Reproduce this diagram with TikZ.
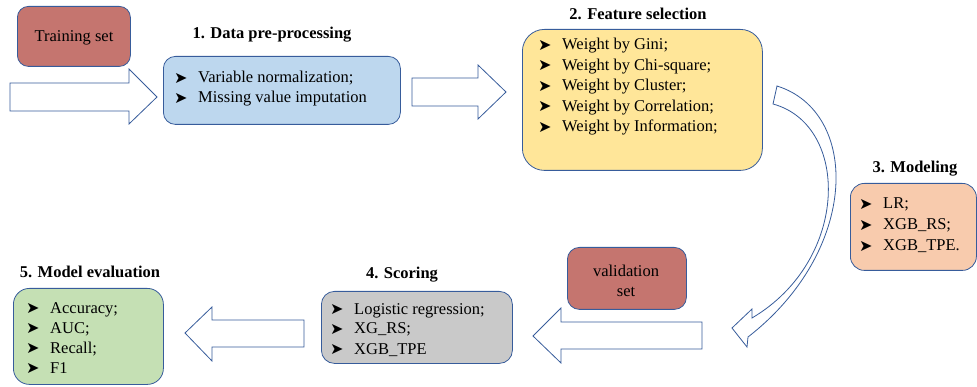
\documentclass[tikz,border=0pt]{standalone}
\usepackage{fontspec}
\setmainfont{Liberation Serif}
\newfontfamily\dejavu{DejaVu Sans}
\definecolor{redset}{RGB}{197,117,111}
\definecolor{bluebox}{RGB}{189,215,238}
\definecolor{yellowbox}{RGB}{255,230,153}
\definecolor{orangebox}{RGB}{248,203,173}
\definecolor{greenbox}{RGB}{197,224,180}
\definecolor{graybox}{RGB}{201,201,201}
\definecolor{edgeblue}{RGB}{55,92,155}
\newcommand\bul{\makebox[22pt][l]{\hspace{-2pt}\raisebox{-0.5pt}{\dejavu\fontsize{16}{16}\selectfont ➤}}}
\newcommand\itemlist[5]{%
  \foreach \t [count=\i from 0] in {#5} {
    \node[itemtxt, anchor=base west] (#1-\i) at (#2-22, #3+#4*\i) {\bul\t};
  }}
\begin{document}
\begin{tikzpicture}[x=1pt,y=-1pt,
  box/.style={draw=edgeblue, line width=0.8pt, inner sep=0pt, anchor=north west},
  itemtxt/.style={font=\fontsize{16.5}{20}\selectfont, inner sep=0pt},
  ttl/.style={font=\fontsize{16.5}{20}\selectfont\bfseries, inner sep=0pt},
  blockarrow/.style={draw=edgeblue, line width=0.8pt, fill=white, line join=miter}]
\useasboundingbox (0,0) rectangle (977,387);

% boxes
\node[box, fill=redset, minimum width=113pt, minimum height=60pt, rounded corners=11pt] (train) at (17,6) {};
\node[itemtxt] (traintxt) at (74,38) {Training set};

\node[box, fill=bluebox, minimum width=237pt, minimum height=68pt, rounded corners=12pt] (pre) at (163,56) {};
\node[box, fill=yellowbox, minimum width=240pt, minimum height=141pt, rounded corners=22pt] (feat) at (522,29) {};
\node[box, fill=orangebox, minimum width=126pt, minimum height=87pt, rounded corners=14pt] (model) at (850,183) {};
\node[box, fill=graybox, minimum width=191pt, minimum height=72pt, rounded corners=13pt] (score) at (321,291) {};
\node[box, fill=greenbox, minimum width=150pt, minimum height=96pt, rounded corners=16pt] (eval) at (13,288) {};
\node[box, fill=redset, minimum width=119pt, minimum height=62pt, rounded corners=12pt] (valid) at (567,247) {};
\node[itemtxt, align=center] (validtxt) at (626,281) {validation\\set};

% titles
\node[ttl] (t1) at (272,35) {1. Data pre-processing};
\node[ttl] (t2) at (638,14) {2. Feature selection};
\node[ttl] (t3) at (915,169) {3. Modeling};
\node[ttl] (t4) at (402,275) {4. Scoring};
\node[ttl] (t5) at (90,272) {5. Model evaluation};

% lists
\itemlist{pl}{198}{83}{20}{{Variable normalization;},{Missing value imputation}}
\itemlist{fl}{562}{50}{20.4}{{Weight by Gini;},{Weight by Chi-square;},{Weight by Cluster;},{Weight by Correlation;},{Weight by Information;}}
\itemlist{ml}{883}{209}{21}{{LR;},{XGB\_RS;},{XGB\_TPE.}}
\itemlist{sl}{354}{314}{20}{{Logistic regression;},{XG\_RS;},{XGB\_TPE}}
\itemlist{el}{50}{313}{20}{{Accuracy;},{AUC;},{Recall;},{F1}}

% block arrows
\draw[blockarrow] (10,83) -- (129,83) -- (129,69) -- (157,97) -- (129,124) -- (129,111) -- (10,111) -- cycle;
\draw[blockarrow] (412,78) -- (478,78) -- (478,65) -- (506,92) -- (478,119) -- (478,106) -- (412,106) -- cycle;
\draw[blockarrow] (702,322) -- (561,322) -- (561,308) -- (533,336) -- (561,363) -- (561,349) -- (702,349) -- cycle;
\draw[blockarrow] (304,320) -- (212,320) -- (212,307) -- (185,333) -- (212,361) -- (212,347) -- (304,347) -- cycle;

% curved arrow
\draw[blockarrow] (777,86) .. controls (860,112) and (860,250) .. (748,337)
  -- (747,347) -- (732,328) -- (752,309) -- (752,318)
  .. controls (850,260) and (850,125) .. (773,104) -- cycle;
\end{tikzpicture}
\end{document}
